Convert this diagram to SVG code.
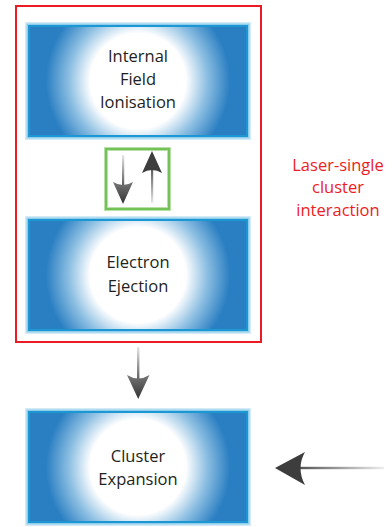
<svg xmlns="http://www.w3.org/2000/svg" width="392" height="527" viewBox="0 0 392 527">
<style>
.lbl{font-family:"Open Sans","Noto Sans",sans-serif;font-size:16.5px;fill:#231f20;text-anchor:middle}
.red{font-family:"Open Sans","Noto Sans",sans-serif;font-size:16.5px;fill:#ed1c24;text-anchor:middle}
.e1{fill:#d3ebf6}.e2{fill:#91cdea}.e3{fill:#1b98d4}.core{fill:url(#rg)}
.head{fill:url(#hg)}
</style>
<defs>
<radialGradient id="rg" gradientUnits="userSpaceOnUse" cx="113" cy="59" r="92">
<stop offset="0" stop-color="#ffffff"/>
<stop offset="0.52" stop-color="#ffffff"/>
<stop offset="0.75" stop-color="#8dbfe2"/>
<stop offset="1" stop-color="#2a7fc2"/>
</radialGradient>
<linearGradient id="hg" x1="0" y1="0" x2="0" y2="1">
<stop offset="0" stop-color="#777"/>
<stop offset="1" stop-color="#333"/>
</linearGradient>
<linearGradient id="sd" x1="0" y1="0" x2="0" y2="1">
<stop offset="0" stop-color="#e6e6e6"/>
<stop offset="1" stop-color="#555"/>
</linearGradient>
<linearGradient id="su" x1="0" y1="1" x2="0" y2="0">
<stop offset="0" stop-color="#e6e6e6"/>
<stop offset="1" stop-color="#555"/>
</linearGradient>
<linearGradient id="sh" x1="1" y1="0" x2="0" y2="0">
<stop offset="0" stop-color="#eeeeee"/>
<stop offset="1" stop-color="#555"/>
</linearGradient>
</defs>

<g id="group-laser">
<rect x="16" y="6" width="245" height="336" fill="none" stroke="#ed1c24" stroke-width="2"/>
<text class="red" x="338" y="171">Laser-single</text>
<text class="red" x="338" y="193">cluster</text>
<text class="red" x="338" y="216">interaction</text>
</g>

<g id="node-ifi" transform="translate(25,22)">
<rect class="e1" x="0" y="0" width="226" height="118"/>
<rect class="e2" x="1.5" y="1.5" width="223" height="115"/>
<rect class="e3" x="3" y="3" width="220" height="112"/>
<rect class="core" x="5" y="5" width="216" height="108"/>
<text class="lbl" x="113" y="40">Internal</text>
<text class="lbl" x="113" y="63">Field</text>
<text class="lbl" x="113" y="86">Ionisation</text>
</g>

<g id="node-ee" transform="translate(25,216)">
<rect class="e1" x="0" y="0" width="226" height="118"/>
<rect class="e2" x="1.5" y="1.5" width="223" height="115"/>
<rect class="e3" x="3" y="3" width="220" height="112"/>
<rect class="core" x="5" y="5" width="216" height="108"/>
<text class="lbl" x="113" y="52">Electron</text>
<text class="lbl" x="113" y="76">Ejection</text>
</g>

<g id="node-ce" transform="translate(25,408)">
<rect class="e1" x="0" y="0" width="226" height="118"/>
<rect class="e2" x="1.5" y="1.5" width="223" height="115"/>
<rect class="e3" x="3" y="3" width="220" height="112"/>
<rect class="core" x="5" y="5" width="216" height="108"/>
<text class="lbl" x="113" y="54">Cluster</text>
<text class="lbl" x="113" y="77">Expansion</text>
</g>

<g id="connectors">
<g id="exchange">
<rect x="106" y="149" width="63" height="60" fill="#fff" stroke="#b9e0a8" stroke-width="4"/>
<rect x="106" y="149" width="63" height="60" fill="none" stroke="#6cbf4f" stroke-width="1.8"/>
<rect x="122" y="155" width="2.2" height="32" fill="url(#sd)"/>
<path class="head" d="M123,204 L113,182 Q123,188 133,182 Z"/>
<rect x="151" y="168" width="2.2" height="35" fill="url(#su)"/>
<path d="M152,151 L142,173 Q152,167 162,173 Z" fill="#3d3d3d"/>
</g>
<g id="arrow-down">
<rect x="137" y="347" width="2.4" height="35" fill="url(#sd)"/>
<path class="head" d="M138.2,399 L127,375 Q138.2,382 149.5,375 Z"/>
</g>
<g id="arrow-left">
<rect x="300" y="466.8" width="84" height="2.4" fill="url(#sh)"/>
<path d="M275,468 L305,452 Q296,468 305,485 Z" fill="#3d3d3d"/>
</g>
</g>
</svg>
